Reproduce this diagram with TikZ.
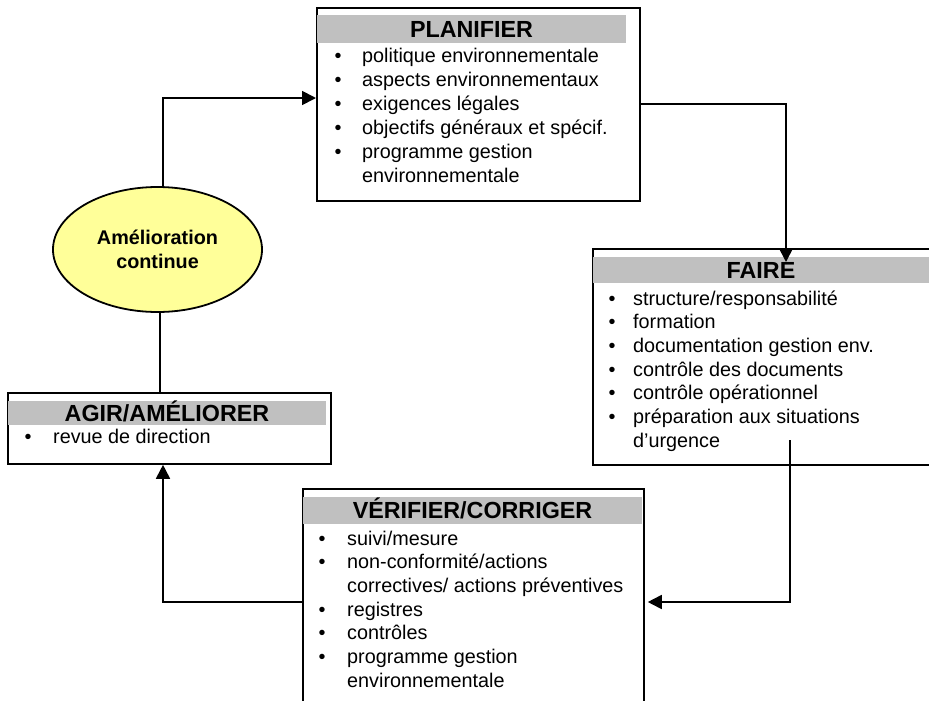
\documentclass[tikz,border=0pt]{standalone}
\usepackage{fontspec}
\setmainfont{Liberation Sans}
\usetikzlibrary{shapes.geometric,arrows.meta}
\definecolor{hdrgray}{RGB}{192,192,192}
\definecolor{paleyellow}{RGB}{255,255,153}
\newcommand\titlesize{\fontsize{23.3}{28}\selectfont\bfseries}
\newcommand\bodysize{\fontsize{19.8}{23.8}\selectfont}
\begin{document}
\begin{tikzpicture}[x=1pt,y=-1pt,
  stage/.style={draw, line width=1.8pt, fill=white, inner sep=0pt, anchor=north west},
  head/.style={fill=hdrgray, inner sep=0pt, text height=16.7pt, text depth=0pt, font=\titlesize},
  bul/.style={anchor=base, inner sep=0pt, font=\bodysize},
  line/.style={anchor=base west, inner sep=0pt, font=\bodysize},
  link/.style={line width=1.8pt},
  arr/.style={link, -{Triangle[length=14pt,width=14pt]}},
  cycle/.style={ellipse, draw, line width=1.8pt, fill=paleyellow, inner sep=0pt,
    align=center, font=\fontsize{19.8}{23.5}\selectfont\bfseries},
]
\useasboundingbox (0,0) rectangle (929,701);
\clip (0,0) rectangle (929,701);

% stage frames
\node[stage, minimum width=323pt, minimum height=193pt] (plan)  at (316,7)   {};
\node[stage, minimum width=360pt, minimum height=216pt] (faire) at (592,248) {};
\node[stage, minimum width=323pt, minimum height=71pt]  (agir)  at (7,392)   {};
\node[stage, minimum width=341pt, minimum height=240pt] (verif) at (302,488) {};

% grey title bars
\node[head, minimum width=309pt, minimum height=28pt] (plan-h)  at (471.5,29)  {PLANIFIER};
\node[head, minimum width=336pt, minimum height=26pt] (faire-h) at (761,270)   {FAIRE};
\node[head, minimum width=318pt, minimum height=24pt] (agir-h)  at (167,413)   {AGIR/AMÉLIORER};
\node[head, minimum width=339pt, minimum height=27pt] (verif-h) at (472.5,510.5) {VÉRIFIER/CORRIGER};

% PLANIFIER items
\node[bul] (plan-b1) at (338,63)    {\textbullet};
\node[line] (plan-1) at (362,63)    {politique environnementale};
\node[bul] (plan-b2) at (338,86.9)  {\textbullet};
\node[line] (plan-2) at (362,86.9)  {aspects environnementaux};
\node[bul] (plan-b3) at (338,110.8) {\textbullet};
\node[line] (plan-3) at (362,110.8) {exigences légales};
\node[bul] (plan-b4) at (338,134.7) {\textbullet};
\node[line] (plan-4) at (362,134.7) {objectifs généraux et spécif.};
\node[bul] (plan-b5) at (338,158.6) {\textbullet};
\node[line] (plan-5) at (362,158.6) {programme gestion};
\node[line] (plan-6) at (362,182.5) {environnementale};

% FAIRE items
\node[bul] (faire-b1) at (612,305)   {\textbullet};
\node[line] (faire-1) at (633,305)   {structure/responsabilité};
\node[bul] (faire-b2) at (612,328.7) {\textbullet};
\node[line] (faire-2) at (633,328.7) {formation};
\node[bul] (faire-b3) at (612,352.4) {\textbullet};
\node[line] (faire-3) at (633,352.4) {documentation gestion env.};
\node[bul] (faire-b4) at (612,376.1) {\textbullet};
\node[line] (faire-4) at (633,376.1) {contrôle des documents};
\node[bul] (faire-b5) at (612,399.8) {\textbullet};
\node[line] (faire-5) at (633,399.8) {contrôle opérationnel};
\node[bul] (faire-b6) at (612,423.5) {\textbullet};
\node[line] (faire-6) at (633,423.5) {préparation aux situations};
\node[line] (faire-7) at (633,447.2) {d’urgence};

% AGIR item
\node[bul] (agir-b1) at (28,443) {\textbullet};
\node[line] (agir-1) at (53,443) {revue de direction};

% VERIFIER items
\node[bul] (verif-b1) at (322,545)   {\textbullet};
\node[line] (verif-1) at (347,545)   {suivi/mesure};
\node[bul] (verif-b2) at (322,568.7) {\textbullet};
\node[line] (verif-2) at (347,568.7) {non-conformité/actions};
\node[line] (verif-3) at (347,592.4) {correctives/ actions préventives};
\node[bul] (verif-b4) at (322,616.1) {\textbullet};
\node[line] (verif-4) at (347,616.1) {registres};
\node[bul] (verif-b5) at (322,639.8) {\textbullet};
\node[line] (verif-5) at (347,639.8) {contrôles};
\node[bul] (verif-b6) at (322,663.5) {\textbullet};
\node[line] (verif-6) at (347,663.5) {programme gestion};
\node[line] (verif-7) at (347,687.2) {environnementale};

% continuous improvement
\node[cycle, minimum width=209pt, minimum height=125pt] (ell) at (157.5,249.5) {Amélioration\\continue};

% cycle connectors
\draw[arr] ([xshift=5.5pt]ell.north) |- ([yshift=-91pt]plan.north west);
\draw[arr] ([yshift=-97pt]plan.north east) -| ([xshift=194pt,yshift=-14pt]faire.north west);
\draw[arr] ([xshift=198pt,yshift=-192pt]faire.north west) |- ([xshift=3pt,yshift=-114pt]verif.north east);
\draw[arr] ([yshift=-114pt]verif.north west) -| ([xshift=156pt]agir.south west);
\draw[link] ([xshift=2.5pt]ell.south) -- ([xshift=2.5pt]ell.south |- agir.north);
\end{tikzpicture}
\end{document}
